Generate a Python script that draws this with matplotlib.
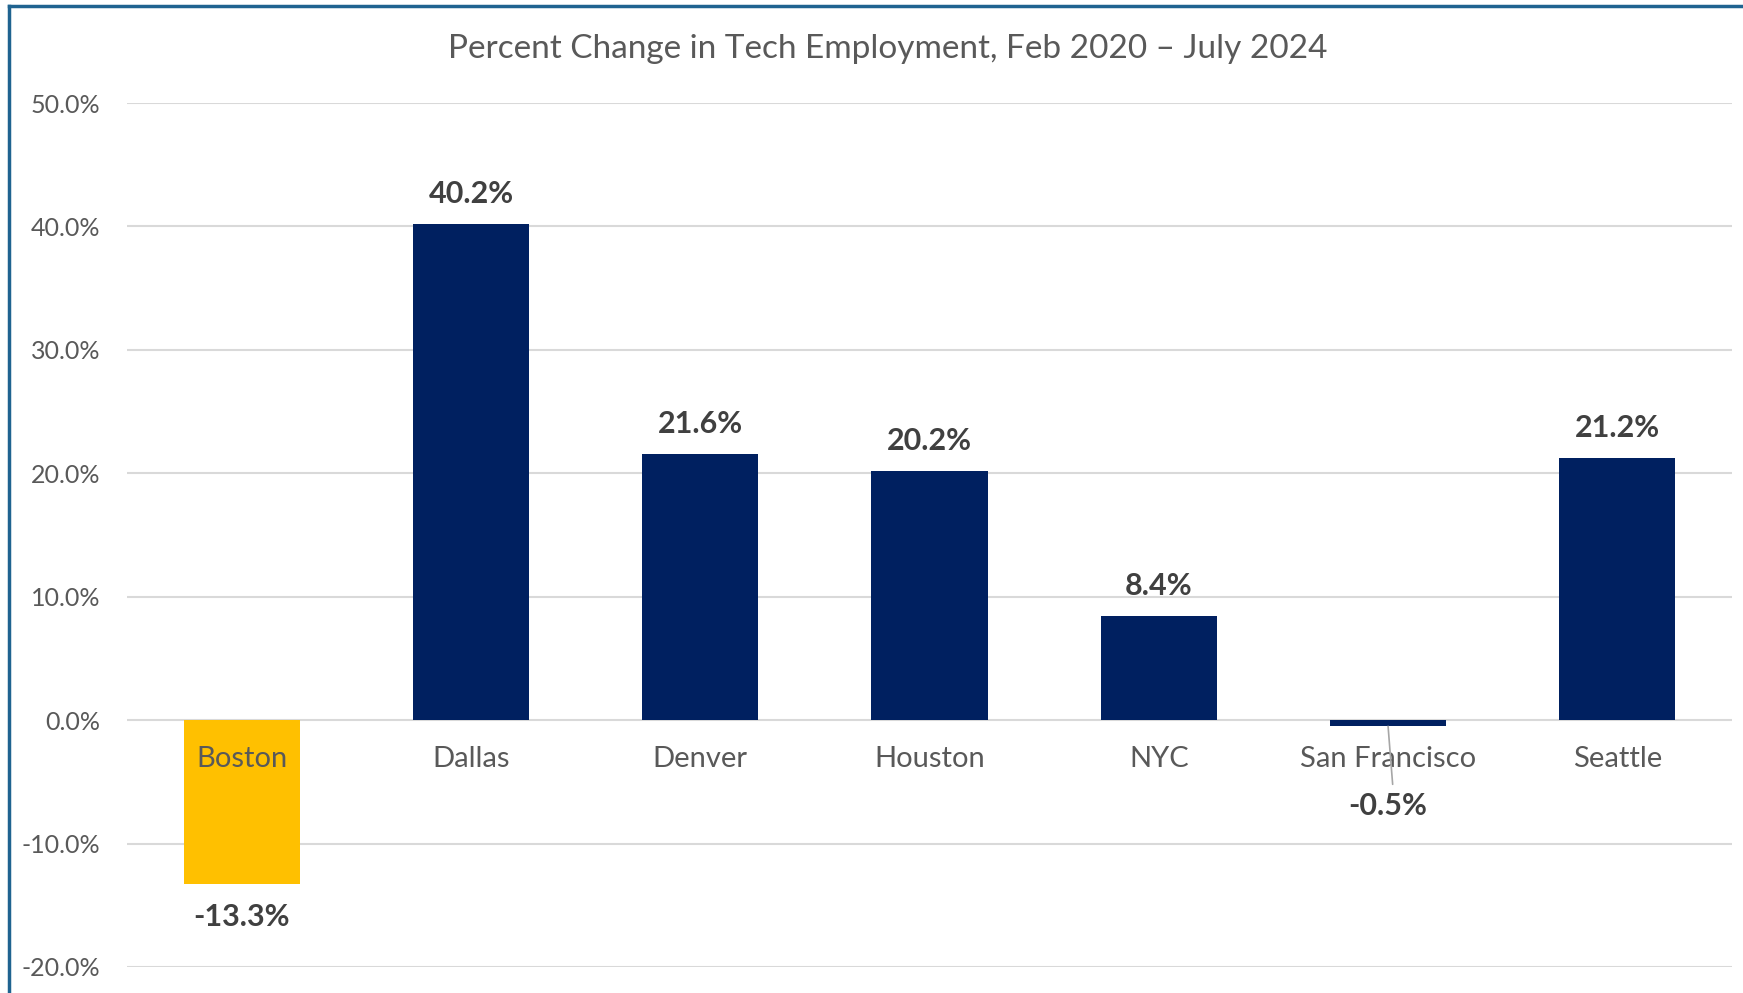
import matplotlib.pyplot as plt
from matplotlib.lines import Line2D
from matplotlib.ticker import FuncFormatter

cities = ['Boston', 'Dallas', 'Denver', 'Houston', 'NYC', 'San Francisco', 'Seattle']
pct_change = [-13.3, 40.2, 21.6, 20.2, 8.4, -0.5, 21.2]
bar_colors = ['#FFC000', '#002060', '#002060', '#002060', '#002060', '#002060', '#002060']
y_ticks = [-20, -10, 0, 10, 20, 30, 40, 50]

plt.rcParams['font.family'] = ['Lato', 'DejaVu Sans']

fig = plt.figure(figsize=(17.43, 9.93), dpi=100)
ax = fig.add_axes([127 / 1743, 1 - 967 / 993, (1732 - 127) / 1743, (967 - 103) / 993])

x = range(len(cities))
ax.bar(x, pct_change, width=0.506, color=bar_colors, zorder=3)

ax.set_xlim(-0.5, len(cities) - 0.5)
ax.set_ylim(-20, 50)
ax.set_yticks(y_ticks)
ax.yaxis.set_major_formatter(FuncFormatter(lambda v, p: f'{v:.1f}%'))
ax.tick_params(axis='y', length=0, pad=19, labelsize=18, labelcolor='#595959')
ax.set_xticks([])
ax.grid(axis='y', color='#d9d9d9', linewidth=1.5, zorder=0)
for s in ax.spines.values():
    s.set_visible(False)

# category labels sit just under the zero line
for i, name in enumerate(cities):
    ax.annotate(name, xy=(i, 0), xytext=(0, -39), textcoords='offset pixels',
                ha='center', va='center', fontsize=21, color='#595959')

# value labels
for i, v in enumerate(pct_change):
    if v >= 0:
        off = 30
    elif v > -5:
        off = -80
    else:
        off = -33
    ax.annotate(f'{v:.1f}%', xy=(i, v), xytext=(0, off), textcoords='offset pixels',
                ha='center', va='center', fontsize=22, fontweight='bold', color='#404040')

# leader line for the tiny San Francisco bar
sf = cities.index('San Francisco')
ax.annotate('', xy=(sf, pct_change[sf]), xytext=(sf + 0.02, pct_change[sf] - 4.7),
            arrowprops=dict(arrowstyle='-', color='#a6a6a6', lw=1.2, shrinkA=0, shrinkB=0))

fig.text(888 / 1743, 1 - 49 / 993, 'Percent Change in Tech Employment, Feb 2020 \u2013 July 2024',
         ha='center', va='center', fontsize=24, color='#595959')

# chart frame (only top and left edges show)
border = '#1F6390'
fig.add_artist(Line2D([9 / 1743, 9 / 1743], [0, 1 - 6 / 993], transform=fig.transFigure,
                      color=border, linewidth=2.5))
fig.add_artist(Line2D([9 / 1743, 1], [1 - 6 / 993, 1 - 6 / 993], transform=fig.transFigure,
                      color=border, linewidth=2.5))

fig.savefig('out.png', dpi=100)
